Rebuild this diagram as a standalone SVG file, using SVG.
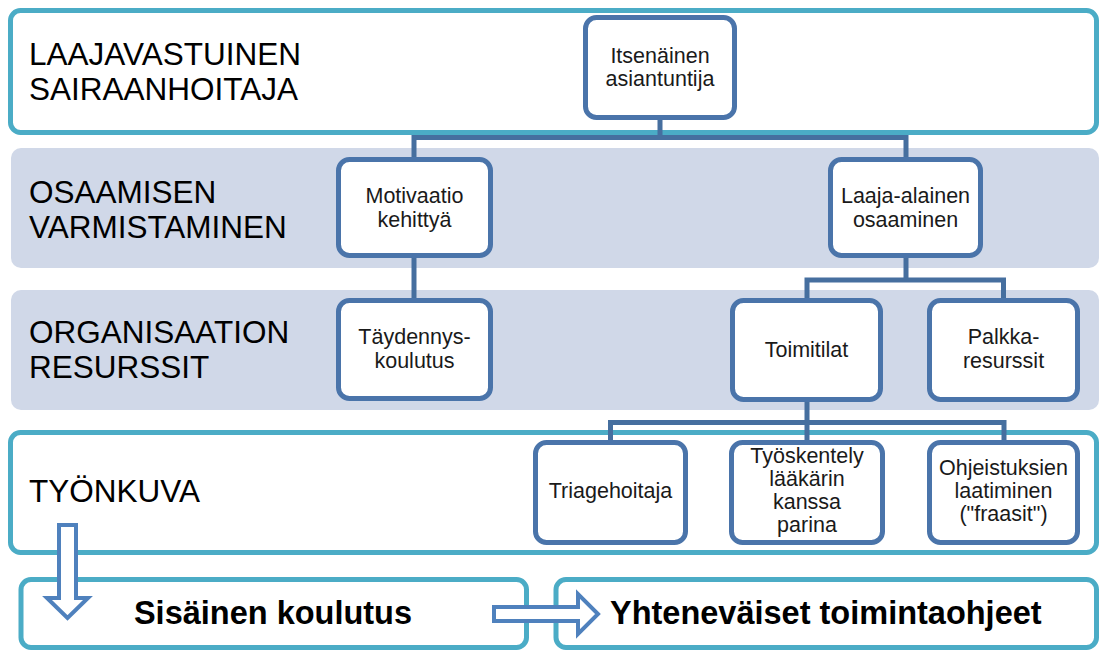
<svg xmlns="http://www.w3.org/2000/svg" width="1101" height="650" viewBox="0 0 1101 650">
<style>
.band-w{fill:#fff;stroke:#4BACC6;stroke-width:5}
.band-g{fill:#D0D8E8;stroke:none}
.node{fill:#fff;stroke:#4A74AA;stroke-width:5}
.conn{fill:none;stroke:#466F9F;stroke-width:5;stroke-linejoin:miter}
.lbl{font-family:"Liberation Sans",Arial,sans-serif;font-size:31.5px;fill:#000}
.nt{font-family:"Liberation Sans",Arial,sans-serif;font-size:21.5px;fill:#1a1a1a;text-anchor:middle}
.bt{font-family:"Liberation Sans",Arial,sans-serif;font-size:32.5px;font-weight:bold;fill:#000}
.arr{fill:#fff;stroke:#4F81BD;stroke-width:4;stroke-linejoin:miter}
</style>
<g id="band1"><rect class="band-w" x="10.5" y="10.5" width="1086" height="122" rx="10"/>
<text class="lbl" x="29" y="65">LAAJAVASTUINEN</text><text class="lbl" x="29" y="100">SAIRAANHOITAJA</text></g>
<g id="band2"><rect class="band-g" x="11" y="148" width="1088" height="120" rx="10"/>
<text class="lbl" x="29" y="203">OSAAMISEN</text><text class="lbl" x="29" y="238">VARMISTAMINEN</text></g>
<g id="band3"><rect class="band-g" x="11" y="290" width="1088" height="120" rx="10"/>
<text class="lbl" x="29" y="343">ORGANISAATION</text><text class="lbl" x="29" y="378">RESURSSIT</text></g>
<g id="band4"><rect class="band-w" x="10.5" y="432.5" width="1086" height="120" rx="10"/>
<text class="lbl" x="29" y="502">TYÖNKUVA</text></g>
<g id="connectors">
<path class="conn" d="M660 120 V137.5 M414 157 V137.5 H906 V157"/>
<path class="conn" d="M414 258 V298"/>
<path class="conn" d="M906 258 V280 M807 298 V280 H1003.5 V298"/>
<path class="conn" d="M807 402 V440 M610.5 440 V422.5 H1004 V440"/>
</g>
<g id="n-itsenainen"><rect class="node" x="585.5" y="17.5" width="149" height="100" rx="11"/>
<text class="nt" x="660" y="63">Itsenäinen</text><text class="nt" x="660" y="86">asiantuntija</text></g>
<g id="n-motivaatio"><rect class="node" x="338.5" y="159.5" width="152" height="96" rx="11"/>
<text class="nt" x="414.5" y="203">Motivaatio</text><text class="nt" x="414.5" y="227">kehittyä</text></g>
<g id="n-laaja"><rect class="node" x="830.5" y="159.5" width="150" height="96" rx="11"/>
<text class="nt" x="905.5" y="203">Laaja-alainen</text><text class="nt" x="905.5" y="227">osaaminen</text></g>
<g id="n-taydennys"><rect class="node" x="338.5" y="300.5" width="152" height="98" rx="11"/>
<text class="nt" x="414.5" y="344">Täydennys-</text><text class="nt" x="414.5" y="368">koulutus</text></g>
<g id="n-toimitilat"><rect class="node" x="732.5" y="300.5" width="148" height="99" rx="11"/>
<text class="nt" x="806.5" y="357">Toimitilat</text></g>
<g id="n-palkka"><rect class="node" x="929.5" y="300.5" width="148" height="99" rx="11"/>
<text class="nt" x="1003.5" y="344">Palkka-</text><text class="nt" x="1003.5" y="368">resurssit</text></g>
<g id="n-triage"><rect class="node" x="535.5" y="442.5" width="150" height="100" rx="11"/>
<text class="nt" x="610.5" y="498">Triagehoitaja</text></g>
<g id="n-tyoskentely"><rect class="node" x="731.5" y="442.5" width="151" height="100" rx="11"/>
<text class="nt" x="807" y="463">Työskentely</text><text class="nt" x="807" y="486">lääkärin</text><text class="nt" x="807" y="509">kanssa</text><text class="nt" x="807" y="532">parina</text></g>
<g id="n-ohjeistuksien"><rect class="node" x="929.5" y="442.5" width="148" height="100" rx="11"/>
<text class="nt" x="1003.5" y="475">Ohjeistuksien</text><text class="nt" x="1003.5" y="498">laatiminen</text><text class="nt" x="1003.5" y="521">("fraasit")</text></g>
<g id="n-sisainen"><rect class="band-w" x="21" y="579.5" width="505.5" height="68" rx="10"/>
<text class="bt" x="273" y="624" text-anchor="middle">Sisäinen koulutus</text></g>
<g id="n-yhtenevaiset"><rect class="band-w" x="556" y="579.5" width="540.5" height="68" rx="10"/>
<text class="bt" x="610" y="624">Yhteneväiset toimintaohjeet</text></g>
<g id="arrows">
<polygon class="arr" points="59,525 76,525 76,598 88,598 67.5,618 47,598 59,598"/>
<polygon class="arr" points="494,607 578,607 578,594 598,614 578,634 578,621 494,621"/>
</g>
</svg>
